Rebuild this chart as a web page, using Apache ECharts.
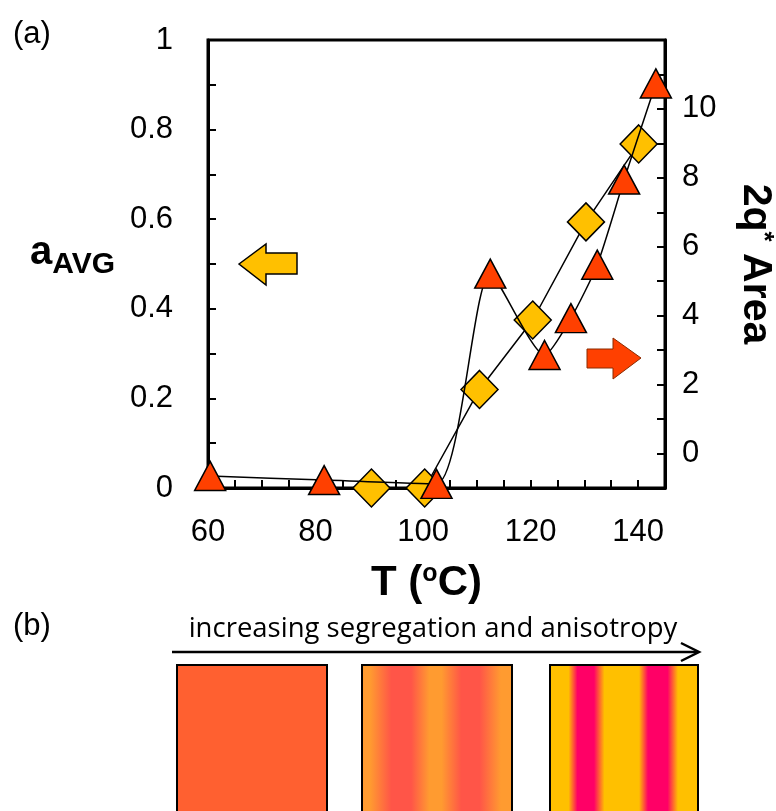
<!DOCTYPE html>
<html>
<head>
<meta charset="utf-8">
<title>aAVG and 2q* Area vs T</title>
<script src="https://cdn.jsdelivr.net/npm/echarts@6.0.0/dist/echarts.min.js"></script>
<style>
html, body { margin: 0; padding: 0; background: #fff; }
#main { width: 776px; height: 811px; }
</style>
</head>
<body>
<div id="main"></div>
<script>
// values
var tempAvg = [90.4, 100.3, 110.5, 120.4, 130.3, 140.1];        // T (oC), diamonds
var aAvg = [0, 0, 0.22, 0.375, 0.594, 0.768];                    // left axis
var tempArea = [60.4, 81.6, 102.5, 112.5, 122.6, 127.5, 132.4, 137.4, 143.3]; // triangles
var area2q = [-0.65, -0.77, -0.88, 5.22, 2.86, 3.93, 5.48, 7.95, 10.74];       // right axis
var xTickLabels = [60, 80, 100, 120, 140];
var leftTickLabels = [0, 0.2, 0.4, 0.6, 0.8, 1];
var rightTickLabels = [0, 2, 4, 6, 8, 10];

var FONT = 'Liberation Sans';

function zip(xs, ys) {
    var out = [];
    for (var i = 0; i < xs.length; i++) out.push([xs[i], ys[i]]);
    return out;
}
function pick(list) {
    return function (v) {
        for (var i = 0; i < list.length; i++) {
            if (Math.abs(list[i] - v) < 1e-6) return String(list[i]);
        }
        return '';
    };
}

var dom = document.getElementById('main');
var myChart = echarts.init(dom, null, { renderer: 'canvas' });

var option = {
    animation: false,
    backgroundColor: '#fff',
    grid: {
        left: 208, right: 111, top: 40, bottom: 323,
        show: true, borderColor: '#000', borderWidth: 3,
        outerBoundsMode: 'none'
    },
    xAxis: {
        type: 'value', min: 60, max: 145, interval: 5,
        axisLine: { show: true, lineStyle: { color: '#000', width: 3 } },
        axisTick: { show: true, inside: true, length: 8, lineStyle: { color: '#000', width: 2 } },
        axisLabel: { margin: 29, fontSize: 31, color: '#000', fontFamily: FONT, formatter: pick(xTickLabels) },
        splitLine: { show: false },
        name: 'T ({sup|o}C)',
        nameLocation: 'middle',
        nameGap: 74,
        nameTextStyle: {
            fontSize: 42, fontWeight: 'bold', color: '#000', fontFamily: FONT,
            padding: [0, 20, 0, 0],
            rich: { sup: { fontSize: 25, fontWeight: 'bold', fontFamily: FONT, color: '#000', verticalAlign: 'top' } }
        }
    },
    yAxis: [{
        type: 'value', position: 'left', min: 0, max: 1, interval: 0.1,
        axisLine: { show: true, lineStyle: { color: '#000', width: 3 } },
        axisTick: { show: true, inside: true, length: 8, lineStyle: { color: '#000', width: 2 } },
        axisLabel: { margin: 35, fontSize: 31, color: '#000', fontFamily: FONT, formatter: pick(leftTickLabels) },
        splitLine: { show: false },
        name: 'a{sub|AVG}',
        nameLocation: 'middle',
        nameRotate: 0,
        nameGap: 93,
        nameTextStyle: {
            fontSize: 40, fontWeight: 'bold', color: '#000', fontFamily: FONT,
            padding: [0, 0, 22, 0],
            rich: { sub: { fontSize: 30, fontWeight: 'bold', fontFamily: FONT, color: '#000', verticalAlign: 'bottom', padding: [24, 0, 0, 0] } }
        }
    }, {
        type: 'value', position: 'right', min: -1, max: 12, interval: 1,
        alignTicks: false,
        axisLine: { show: true, lineStyle: { color: '#000', width: 3 } },
        axisTick: { show: true, inside: true, length: 8, lineStyle: { color: '#000', width: 2 } },
        axisLabel: { margin: 17, fontSize: 31, color: '#000', fontFamily: FONT, formatter: pick(rightTickLabels) },
        splitLine: { show: false },
        name: '2q{sup|*} Area',
        nameLocation: 'middle',
        nameRotate: -90,
        nameGap: 70,
        nameTextStyle: {
            fontSize: 41, fontWeight: 'bold', color: '#000', fontFamily: FONT,
            rich: { sup: { fontSize: 26, fontWeight: 'bold', fontFamily: FONT, color: '#000', verticalAlign: 'top' } }
        }
    }],
    series: [{
        name: 'aAVG',
        type: 'line',
        yAxisIndex: 0,
        data: zip(tempAvg, aAvg),
        symbol: 'diamond',
        symbolSize: [37, 38],
        clip: false,
        itemStyle: { color: '#FFC000', borderColor: '#000', borderWidth: 1.5 },
        lineStyle: { color: '#000', width: 1.5 },
        emphasis: { disabled: true },
        z: 2
    }, {
        name: '2q* Area',
        type: 'line',
        yAxisIndex: 1,
        data: zip(tempArea, area2q),
        symbol: 'triangle',
        symbolSize: [31, 29],
        smooth: 0.22,
        clip: false,
        itemStyle: { color: '#FF4000', borderColor: '#000', borderWidth: 1.5 },
        lineStyle: { color: '#000', width: 1.5 },
        emphasis: { disabled: true },
        z: 3
    }],
    graphic: [
        { type: 'text', left: 13, top: 19, style: { text: '(a)', fontSize: 31, fontFamily: FONT, fill: '#000' } },
        { type: 'text', left: 13, top: 611, style: { text: '(b)', fontSize: 31, fontFamily: FONT, fill: '#000' } },
        // yellow arrow pointing to the left axis
        { type: 'polygon', shape: { points: [[239, 264], [266, 244], [266, 253], [297, 253], [297, 274], [266, 274], [266, 285]] },
          style: { fill: '#FFC000', stroke: '#000', lineWidth: 1.5 }, z: 10 },
        // red arrow pointing to the right axis
        { type: 'polygon', shape: { points: [[587, 349], [613, 349], [613, 338], [641, 358], [613, 379], [613, 368], [587, 368]] },
          style: { fill: '#FF4000', stroke: '#8a2a00', lineWidth: 1 }, z: 10 },
        // panel (b)
        { type: 'text', x: 433, y: 643, style: { text: 'increasing segregation and anisotropy', fontSize: 27.5, fontFamily: 'Open Sans', fill: '#000', align: 'center', verticalAlign: 'bottom' } },
        { type: 'polyline', shape: { points: [[172, 652], [698, 652]] }, style: { stroke: '#000', lineWidth: 2.5, fill: null } },
        { type: 'polyline', shape: { points: [[681, 643], [699, 652], [681, 661]] }, style: { stroke: '#000', lineWidth: 2.5, fill: null } },
        { type: 'rect', shape: { x: 177, y: 665, width: 150, height: 160 }, style: { fill: '#FF6030', stroke: '#000', lineWidth: 2 } },
        { type: 'rect', shape: { x: 362, y: 665, width: 150, height: 160 },
          style: { stroke: '#000', lineWidth: 2, fill: new echarts.graphic.LinearGradient(0, 0, 1, 0, [
              { offset: 0, color: '#FF9B30' }, { offset: 0.06, color: '#FF9B30' },
              { offset: 0.2, color: '#FF5548' }, { offset: 0.33, color: '#FF5548' },
              { offset: 0.45, color: '#FF9B30' }, { offset: 0.53, color: '#FF9B30' },
              { offset: 0.66, color: '#FF5548' }, { offset: 0.78, color: '#FF5548' },
              { offset: 0.92, color: '#FF9B30' }, { offset: 1, color: '#FF9B30' }]) } },
        { type: 'rect', shape: { x: 550, y: 665, width: 148, height: 160 },
          style: { stroke: '#000', lineWidth: 2, fill: new echarts.graphic.LinearGradient(0, 0, 1, 0, [
              { offset: 0, color: '#FFC000' }, { offset: 0.13, color: '#FFC000' },
              { offset: 0.19, color: '#FF0066' }, { offset: 0.30, color: '#FF0066' },
              { offset: 0.37, color: '#FFC000' }, { offset: 0.60, color: '#FFC000' },
              { offset: 0.66, color: '#FF0066' }, { offset: 0.79, color: '#FF0066' },
              { offset: 0.86, color: '#FFC000' }, { offset: 1, color: '#FFC000' }]) } }
    ]
};

if (option && typeof option === 'object') {
    myChart.setOption(option, true);
}
</script>
</body>
</html>
